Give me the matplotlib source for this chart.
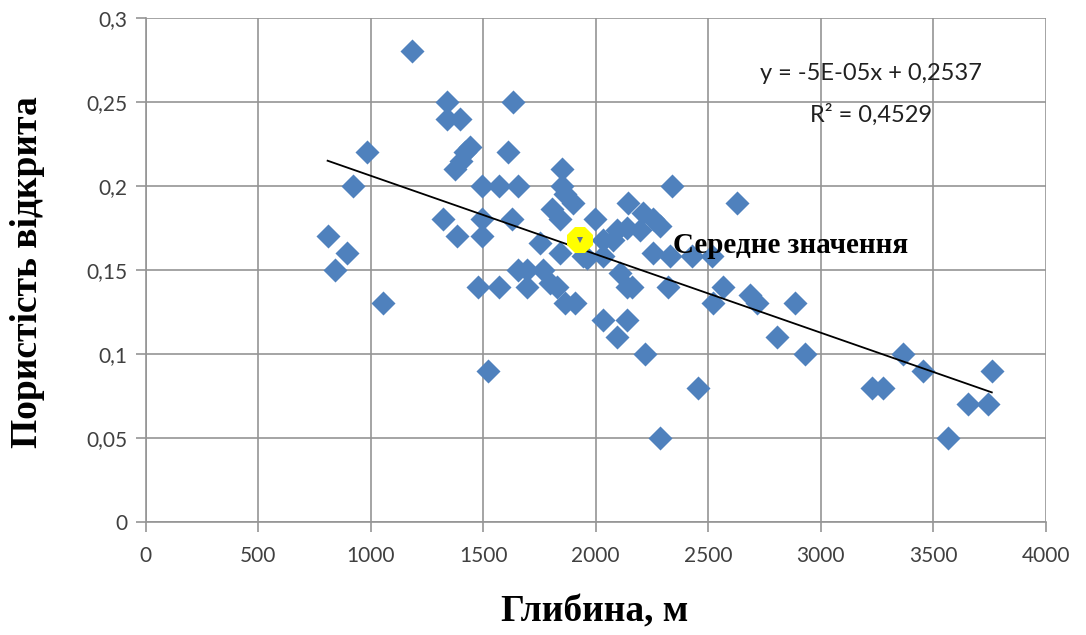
import matplotlib
matplotlib.use('Agg')
import matplotlib.pyplot as plt
import numpy as np

# Depth (m) and open porosity
depth = [809, 844, 893, 920, 982, 1053, 1182, 1320, 1338, 1338, 1396, 1373, 1400,
         1418, 1440, 1382, 1493, 1493, 1493, 1476, 1520, 1569, 1569, 1609, 1631,
         1627, 1653, 1653, 1693, 1693, 1751, 1764, 1796, 1804, 1827, 1840, 1849,
         1849, 1862, 1898, 1840, 1862, 1907, 1942, 1960, 1996, 2031, 2031, 2031,
         2076, 2093, 2093, 2107, 2138, 2138, 2138, 2142, 2160, 2196, 2209, 2218,
         2253, 2253, 2284, 2284, 2329, 2320, 2338, 2427, 2453, 2516, 2520, 2564,
         2627, 2684, 2716, 2804, 2884, 2929, 3227, 3276, 3364, 3453, 3564, 3653,
         3742, 3760]
porosity = [0.17, 0.15, 0.16, 0.20, 0.22, 0.13, 0.28, 0.18, 0.25, 0.24, 0.24, 0.21, 0.215,
            0.22, 0.223, 0.17, 0.20, 0.18, 0.17, 0.14, 0.09, 0.20, 0.14, 0.22, 0.25,
            0.18, 0.20, 0.15, 0.15, 0.14, 0.166, 0.15, 0.142, 0.186, 0.14, 0.18, 0.21,
            0.20, 0.195, 0.19, 0.16, 0.13, 0.13, 0.158, 0.157, 0.18, 0.168, 0.158, 0.12,
            0.168, 0.174, 0.11, 0.148, 0.175, 0.14, 0.12, 0.19, 0.14, 0.174, 0.184, 0.10,
            0.18, 0.16, 0.176, 0.05, 0.158, 0.14, 0.20, 0.158, 0.08, 0.158, 0.13, 0.14,
            0.19, 0.135, 0.13, 0.11, 0.13, 0.10, 0.08, 0.08, 0.10, 0.09, 0.05, 0.07,
            0.07, 0.09]

mean_depth = 1930
mean_porosity = 0.168

eq_text = 'y = -5E-05x + 0,2537'
r2_text = 'R² = 0,4529'
mean_label = 'Середне значення'
x_ticks = [0, 500, 1000, 1500, 2000, 2500, 3000, 3500, 4000]
y_ticks = [0, 0.05, 0.1, 0.15, 0.2, 0.25, 0.3]
y_tick_labels = ['0', '0,05', '0,1', '0,15', '0,2', '0,25', '0,3']

fig = plt.figure(figsize=(10.86, 6.35), dpi=100)
ax = fig.add_axes([0.134, 0.178, 0.829, 0.794])

ax.set_xlim(0, 4000)
ax.set_ylim(0, 0.3)
ax.set_xticks(x_ticks)
ax.set_yticks(y_ticks)
ax.set_xticklabels([str(t) for t in x_ticks])
ax.set_yticklabels(y_tick_labels)
ax.grid(True, color='#959595', linewidth=1.2)
ax.set_axisbelow(True)
for s in ['top', 'right']:
    ax.spines[s].set_visible(False)
for s in ['left', 'bottom']:
    ax.spines[s].set_color('#959595')
    ax.spines[s].set_linewidth(1.2)
ax.tick_params(colors='#959595', length=7, width=1.2, direction='out')
for lbl in ax.get_xticklabels() + ax.get_yticklabels():
    lbl.set_fontfamily('Lato')
    lbl.set_fontsize(15)
    lbl.set_color('#404040')
ax.tick_params(axis='x', pad=10)
ax.tick_params(axis='y', pad=6)

ax.scatter(depth, porosity, marker='D', s=150, color='#4F81BD', linewidths=0, zorder=3)

# linear trend
k, b = np.polyfit(depth, porosity, 1)
xs = np.array([min(depth), max(depth)])
ax.plot(xs, k * xs + b, color='black', linewidth=1.3, zorder=4)

ax.plot([mean_depth], [mean_porosity], marker='8', markersize=20, color='#FFFF00',
        markeredgewidth=0, zorder=5)
ax.plot([mean_depth], [mean_porosity], marker='v', markersize=4, color='#5a6e9a',
        markeredgewidth=0, zorder=6)

ax.text(2345, 0.160, mean_label, fontfamily='Liberation Serif', fontweight='bold',
        fontsize=21, color='black', va='baseline', zorder=6)
ax.text(3225, 0.263, eq_text, fontfamily='Lato', fontsize=17, color='#202020',
        ha='center', va='baseline')
ax.text(3225, 0.238, r2_text, fontfamily='Lato', fontsize=17, color='#202020',
        ha='center', va='baseline')

fig.text(595 / 1086, 1 - 612 / 635, 'Глибина, м', fontfamily='Liberation Serif',
         fontweight='bold', fontsize=27, ha='center', va='center')
fig.text(28 / 1086, 1 - 272 / 635, 'Пористість відкрита', fontfamily='Liberation Serif',
         fontweight='bold', fontsize=27, rotation=90, ha='center', va='center')

fig.savefig('out.png', dpi=100)
